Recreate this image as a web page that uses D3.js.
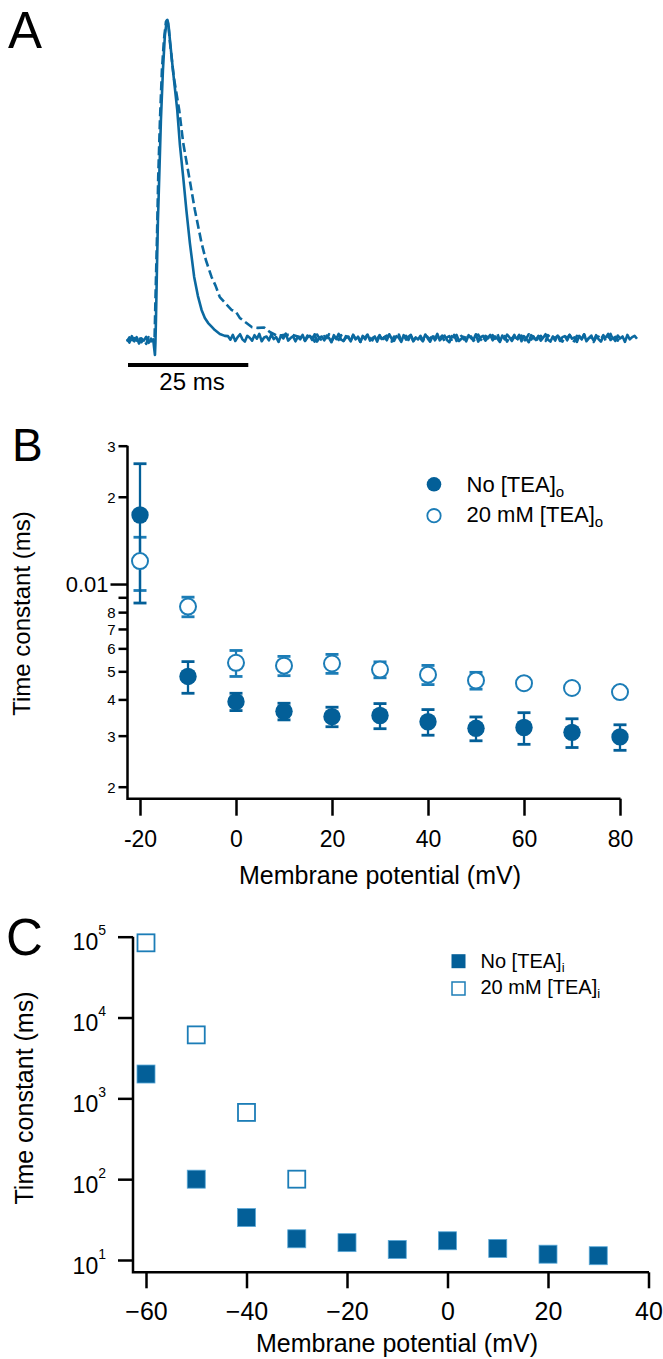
<!DOCTYPE html>
<html><head><meta charset="utf-8">
<script src="https://cdn.jsdelivr.net/npm/d3@7"></script>
<style>
body{margin:0;background:#fff}
svg{display:block}
text{font-family:"Liberation Sans",Arial,Helvetica,sans-serif;fill:#000}
</style>
</head><body>
<svg id="c" width="663" height="1359"></svg>
<script>
// ---------------- Panel A data (time in ms, amplitude in % of peak) ----------------
const solidPreNoise = [0.3,-0.8,1.2,-0.4,0.9,-1.1,0.5,-0.2,1.0,-0.9,0.4,-0.6];
const solidSpikeT = [5.81,5.91,6.02,6.22,6.43,6.70,7.05,7.47,7.88,8.24,8.40,8.61,8.92,9.54,10.44,11.0,11.68,12.34,13.07,13.96,14.73,15.5,16.18,16.87,17.63,18.26,19.29,20.33];
const solidSpikeV = [-4.7,-0.9,6.3,21.9,37.5,50.9,68.8,84.4,95.3,99.4,100,98.8,93.8,84.4,71.9,60.9,50.9,40.6,30.3,19.7,13.8,9.4,6.9,5.3,4.1,3.1,1.9,1.3];
const solidPostNoise = [
1.2,0.1,1.6,-0.3,0.9,1.8,0.2,-0.5,1.3,0.7,
-0.2,1.5,0.4,1.9,-0.4,0.8,1.1,-0.1,1.7,0.3,
0.9,-0.6,1.4,0.5,2.0,-0.2,0.6,1.2,-0.4,1.0,
0.2,1.6,-0.3,0.8,1.3,0.0,1.8,-0.5,0.7,1.1,
-0.1,1.4,0.6,-0.7,1.5,0.3,1.9,0.1,-0.3,1.2,
0.8,-0.4,1.6,0.2,1.0,-0.6,1.3,0.5,1.7,-0.2,
0.6,1.1,-0.5,1.4,0.3,0.9,-0.1,1.8,0.4,-0.3,
1.2,0.7,-0.6,1.5,0.1,1.0,1.6,-0.4,0.8,0.2,
1.3,-0.2,1.7,0.5,-0.5,1.1,0.3,1.9,-0.1,0.6,
1.4,0.0,-0.7,1.2,0.8,1.6,-0.3,0.4,1.0,-0.4,
1.5,0.6,0.1,1.8,-0.5,0.9,1.3,-0.2,0.7,1.6,
-0.1,1.1,0.4,-0.6,1.4,0.2,1.7,0.8,-0.3,1.0,
0.5,1.6,-0.4,1.2,0.3,-0.7,1.5,0.9,0.0,1.3,
-0.2,0.7,1.8,0.1,-0.5,1.1,0.6,1.4,-0.3,0.9,
1.2,-0.1,1.6,0.4,0.8,-0.6,1.3,0.2,1.7,-0.4,
0.6,1.0,-0.2,1.5,0.3,-0.5,1.2,0.8,1.9,0.0,
0.7,-0.3,1.4,0.5,1.1,-0.6,1.6,0.2,0.9,1.3,
0.4];
const dashedPreNoise = [-0.5,0.8,-1.0,0.6,-0.2,1.1,-0.7,0.3,-1.2,0.9,-0.4,0.2];
const dashedSpikeT = [5.71,5.91,6.22,6.49,6.85,7.26,7.68,8.09,8.30,8.61,8.92,9.75,10.85,11.68,12.93,14.11,15.50,16.39,17.57,18.4,19.29,20.54,21.72,22.6,23.44,24.83,26.0,27.18,28.5,29.67,31.2,32.78,34.3,35.89];
const dashedSpikeV = [-0.9,12.5,31.3,50.9,68.8,84.4,93.8,99.4,100,98.4,93.1,81.9,71.9,61.6,50.9,40.6,30.3,25.0,19.7,17.0,13.4,11.3,9.4,8.9,6.9,5.3,4.0,3.8,3.9,2.5,1.3,1.6,1.6,0.9];
const dashedPostNoise = [
0.9,-0.2,1.4,0.3,1.0,-0.5,1.7,0.5,-0.1,1.2,
0.6,1.8,-0.4,0.8,1.3,0.0,1.5,-0.3,0.7,1.1,
-0.2,1.6,0.4,1.0,-0.6,1.3,0.2,1.9,0.5,-0.1,
1.2,0.3,1.5,-0.4,0.9,1.4,0.1,-0.5,1.1,0.6,
1.7,-0.2,0.8,1.3,0.0,1.6,-0.3,0.7,1.2,0.4,
-0.4,1.5,0.9,0.2,1.8,-0.1,1.0,0.5,1.4,-0.5,
0.8,1.2,0.1,1.6,-0.3,0.6,1.3,0.2,0.9,0.5,
1.1,-0.3,0.6,1.7,0.2,-0.6,1.3,0.8,0.0,1.5,
0.4,1.9,-0.2,0.7,1.2,-0.5,1.0,0.3,1.6,-0.1,
0.8,1.4,-0.4,0.5,1.8,0.1,1.1,-0.6,0.9,1.3,
0.2,-0.3,1.5,0.6,1.0,-0.2,1.7,0.4,-0.5,1.2,
0.7,1.6,0.0,-0.4,1.3,0.9,0.3,1.8,-0.1,0.6,
1.4,-0.6,0.8,1.1,0.2,1.5,-0.3,0.7,1.9,0.1,
1.0,-0.2,1.2];
const scaleBarMs = 25;
const scaleBarLabel = "25 ms";

// ---------------- Panel B data (time constant, labelled axis units) ----------------
const potB = [-20,-10,0,10,20,30,40,50,60,70,80];
const tauNoTEAo = [0.0173,0.0048,0.00393,0.00364,0.00349,0.00352,0.00335,0.00318,0.0032,0.00308,0.00297];
const errNoTEAo = [0.0087,0.0006,0.00027,0.00024,0.00027,0.00035,0.00034,0.0003,0.0004,0.00035,0.0003];
const tau20TEAo = [0.0120,0.00836,0.00535,0.00523,0.00532,0.00507,0.00487,0.00465,0.00455,0.00438,0.00424];
const err20TEAo = [0.0025,0.00065,0.00055,0.0004,0.0004,0.00032,0.00037,0.00031,0.0001,0.0001,0.0001];
const xTicksB = [-20,0,20,40,60,80];
const yTicksB = [0.03,0.02,0.01,0.009,0.008,0.007,0.006,0.005,0.004,0.003,0.002];
const yTickLabelsB = ["3","2","0.01","","8","7","6","5","4","3","2"];

// ---------------- Panel C data ----------------
const potC = [-60,-50,-40,-30,-20,-10,0,10,20,30];
const tauNoTEAi = [2000,100,33.5,18.3,16.4,13.5,17.3,13.9,11.8,11.3];
const potC20 = [-60,-50,-40,-30];
const tau20TEAi = [84000,6100,670,100];
const xTicksC = [-60,-40,-20,0,20,40];
const yTicksC = [10,100,1000,10000,100000];
const yTickExpC = ["1","2","3","4","5"];

// ---------------- drawing ----------------
const svg = d3.select('#c');
const BLUE = '#035f98', BLUE_L = '#1c7db7', TRACE = '#0b69a0';

function label(txt, x, y, size, anchor){
  return svg.append('text').attr('x',x).attr('y',y).attr('font-size',size)
    .attr('text-anchor',anchor||'start').text(txt);
}

// Panel A
label('A', 8, 48, 51);
const xA = d3.scaleLinear().domain([0,106]).range([127,637]);
const yA = d3.scaleLinear().domain([0,100]).range([340,20]);
const preT = d3.range(0, 5.51, 0.5);
const solid = preT.map((t,i)=>[t, solidPreNoise[i]])
  .concat(solidSpikeT.map((t,i)=>[t, solidSpikeV[i]]))
  .concat(d3.range(21, 106.01, 0.5).map((t,i)=>[t, solidPostNoise[i]]));
const dashed = preT.map((t,i)=>[t, dashedPreNoise[i]])
  .concat(dashedSpikeT.map((t,i)=>[t, dashedSpikeV[i]]))
  .concat(d3.range(36.5, 106.01, 0.5).map((t,i)=>[t, dashedPostNoise[i]]));
const lineA = d3.line().x(d=>xA(d[0])).y(d=>yA(d[1]));
svg.append('path').attr('d', lineA(dashed)).attr('fill','none').attr('stroke',TRACE)
  .attr('stroke-width',2.6).attr('stroke-dasharray','9,4').attr('stroke-linejoin','round');
svg.append('path').attr('d', lineA(solid)).attr('fill','none').attr('stroke',TRACE)
  .attr('stroke-width',2.6).attr('stroke-linejoin','round');
svg.append('line').attr('x1',xA(0)+1).attr('x2',xA(scaleBarMs)+1).attr('y1',365).attr('y2',365)
  .attr('stroke','#000').attr('stroke-width',4);
label(scaleBarLabel, 192, 390, 24, 'middle');

// Panel B
label('B', 12, 461, 46);
const xB = d3.scaleLinear().domain([-20,80]).range([140,620]);
const yB = d3.scaleLog().domain([0.002,0.03]).range([786.7,445.7]);
const axB = 798.7, ayB = 127.5;
const gB = svg.append('g');
gB.append('path').attr('d',`M${ayB},${yB(0.03)}V${axB}H${xB(80)+0.5}`)
  .attr('fill','none').attr('stroke','#000').attr('stroke-width',2.5).attr('stroke-linejoin','miter');
const gxB = gB.append('g').attr('transform',`translate(0,${axB})`)
  .call(d3.axisBottom(xB).tickValues(xTicksB).tickSize(17).tickSizeOuter(0).tickFormat(d3.format('d')));
gxB.select('.domain').remove();
gxB.selectAll('line').attr('stroke','#000').attr('stroke-width',2.5);
gxB.selectAll('text').attr('y',48).attr('dy',0).attr('font-size',23).attr('font-family',null).attr('fill','#000')
  .text(d=>String(d));
const gyB = gB.append('g').attr('transform',`translate(${ayB},0)`)
  .call(d3.axisLeft(yB).tickValues(yTicksB).tickSize(9).tickSizeOuter(0)
  .tickFormat((d,i)=>yTickLabelsB[i]));
gyB.select('.domain').remove();
gyB.selectAll('line').attr('stroke','#000').attr('stroke-width',2.5)
  .attr('x2',d=>d===0.01?-17:-9);
gyB.selectAll('text').attr('font-family',null).attr('fill','#000')
  .attr('font-size',d=>d===0.01?22:15).attr('x',d=>d===0.01?-19:-12).attr('dy','0.36em');
label('Membrane potential (mV)', 380, 884, 25, 'middle');
svg.append('text').attr('transform','translate(30,613.5) rotate(-90)').attr('font-size',24)
  .attr('text-anchor','middle').text('Time constant (ms)');

function errBars(g, xs, vs, es, xS, yS, color){
  xs.forEach((x,i)=>{
    const px = xS(x), y1 = yS(vs[i]+es[i]), y2 = yS(vs[i]-es[i]);
    g.append('line').attr('x1',px).attr('x2',px).attr('y1',y1).attr('y2',y2)
      .attr('stroke',color).attr('stroke-width',2.3);
    [y1,y2].forEach(y=>g.append('line').attr('x1',px-6.5).attr('x2',px+6.5).attr('y1',y).attr('y2',y)
      .attr('stroke',color).attr('stroke-width',2.8));
  });
}
const mB = svg.append('g');
errBars(mB, potB, tau20TEAo, err20TEAo, xB, yB, BLUE_L);
errBars(mB, potB, tauNoTEAo, errNoTEAo, xB, yB, BLUE);
mB.selectAll('circle.o').data(potB).join('circle').attr('class','o')
  .attr('cx',d=>xB(d)).attr('cy',(d,i)=>yB(tau20TEAo[i])).attr('r',8)
  .attr('fill','#fff').attr('stroke',BLUE_L).attr('stroke-width',2);
mB.selectAll('circle.f').data(potB).join('circle').attr('class','f')
  .attr('cx',d=>xB(d)).attr('cy',(d,i)=>yB(tauNoTEAo[i])).attr('r',8.7)
  .attr('fill',BLUE);
// legend B
svg.append('circle').attr('cx',434).attr('cy',484.3).attr('r',7.3).attr('fill',BLUE);
svg.append('circle').attr('cx',434).attr('cy',515.7).attr('r',6.7).attr('fill','#fff').attr('stroke',BLUE_L).attr('stroke-width',1.8);
const lb1 = label('No [TEA]', 466.5, 491.7, 22);
lb1.append('tspan').attr('font-size',15).attr('dy',5).text('o');
const lb2 = label('20 mM [TEA]', 466.5, 521.7, 22);
lb2.append('tspan').attr('font-size',15).attr('dy',5).text('o');

// Panel C
label('C', 6, 955, 51);
const xC = d3.scaleLinear().domain([-60,40]).range([146,648.5]);
const yC = d3.scaleLog().domain([10,100000]).range([1260,936.7]);
const axC = 1272.3, ayC = 133;
const gC = svg.append('g');
gC.append('path').attr('d',`M${ayC},${yC(100000)}V${axC}H${xC(40)+0.5}`)
  .attr('fill','none').attr('stroke','#000').attr('stroke-width',2.5);
const gxC = gC.append('g').attr('transform',`translate(0,${axC})`)
  .call(d3.axisBottom(xC).tickValues(xTicksC).tickSize(16).tickSizeOuter(0).tickFormat(d3.format('d')));
gxC.select('.domain').remove();
gxC.selectAll('line').attr('stroke','#000').attr('stroke-width',2.5);
gxC.selectAll('text').attr('y',48).attr('dy',0).attr('font-size',25).attr('font-family',null).attr('fill','#000');
const gyC = gC.append('g').attr('transform',`translate(${ayC},0)`)
  .call(d3.axisLeft(yC).tickValues(yTicksC).tickSize(15).tickSizeOuter(0).tickFormat(()=>''));
gyC.select('.domain').remove();
gyC.selectAll('line').attr('stroke','#000').attr('stroke-width',2.5);
gyC.selectAll('.tick').each(function(d,i){
  const t = d3.select(this).select('text').attr('font-family',null).attr('fill','#000')
    .attr('x',-27).attr('y',13).attr('dy',0).attr('font-size',23).attr('text-anchor','end').text('10');
  t.append('tspan').attr('font-size',14).attr('dy',-15).text(yTickExpC[i]);
});
label('Membrane potential (mV)', 397, 1352, 25, 'middle');
svg.append('text').attr('transform','translate(33,1098) rotate(-90)').attr('font-size',25)
  .attr('text-anchor','middle').text('Time constant (ms)');
const mC = svg.append('g');
mC.selectAll('rect.f').data(potC).join('rect').attr('class','f')
  .attr('x',d=>xC(d)-9).attr('y',(d,i)=>yC(tauNoTEAi[i])-9).attr('width',18).attr('height',18)
  .attr('fill',BLUE).attr('stroke','#5aa9d8').attr('stroke-width',0.8);
mC.selectAll('rect.o').data(potC20).join('rect').attr('class','o')
  .attr('x',d=>xC(d)-8.5).attr('y',(d,i)=>yC(tau20TEAi[i])-8.5).attr('width',17).attr('height',17)
  .attr('fill','#fff').attr('stroke',BLUE_L).attr('stroke-width',1.8);
// legend C
svg.append('rect').attr('x',451.5).attr('y',954.2).attr('width',14).attr('height',14).attr('fill',BLUE);
svg.append('rect').attr('x',452).attr('y',982).attr('width',13).attr('height',13).attr('fill','#fff').attr('stroke',BLUE_L).attr('stroke-width',1.5);
const lc1 = label('No [TEA]', 480.5, 967.7, 20);
lc1.append('tspan').attr('font-size',13).attr('dy',4).text('i');
const lc2 = label('20 mM [TEA]', 480.5, 994.3, 20);
lc2.append('tspan').attr('font-size',13).attr('dy',4).text('i');
</script>
</body></html>
